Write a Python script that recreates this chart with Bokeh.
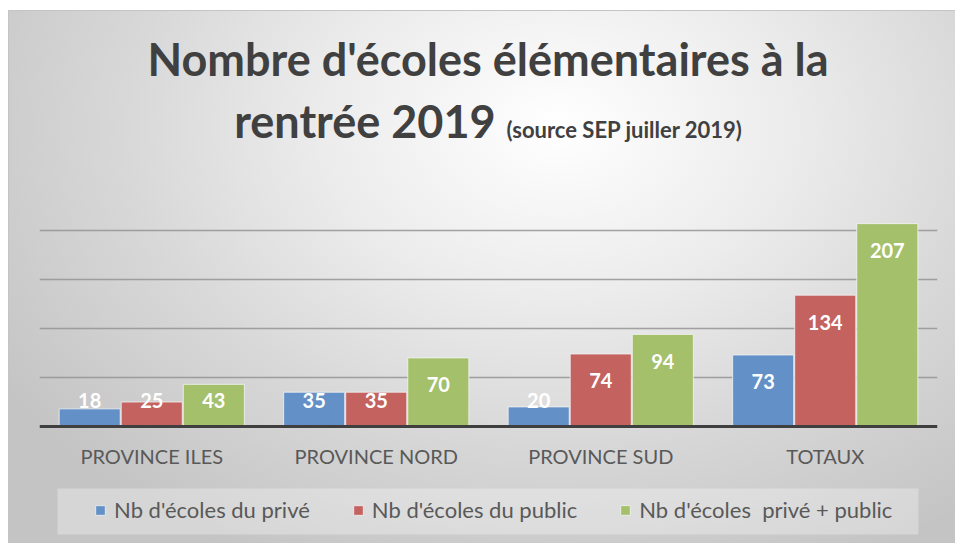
import numpy as np
from bokeh.plotting import figure
from bokeh.layouts import column
from bokeh.models import (FactorRange, Range1d, ColumnDataSource, Legend,
                          LegendItem, FixedTicker, Div, BoxAnnotation)
from bokeh.transform import dodge
from bokeh.core.properties import value
from bokeh.embed import file_html
from bokeh.resources import INLINE

# ---- data ----
categories = ["PROVINCE ILES", "PROVINCE NORD", "PROVINCE SUD", "TOTAUX"]
prive = [18, 35, 20, 73]
public = [25, 35, 74, 134]
total = [43, 70, 94, 207]
series_keys = ["prive", "public", "total"]
series_names = ["Nb d'écoles du privé", "Nb d'écoles du public", "Nb d'écoles  privé + public"]
colors = ["#6390C6", "#C46260", "#A4C06A"]
grid_values = [50, 100, 150, 200, 250]
title_line1 = "Nombre d'écoles élémentaires à la"
title_line2 = "rentrée 2019"
title_source = "(source SEP juiller 2019)"

FONT = "Lato"

data = dict(cat=categories, prive=prive, public=public, total=total)
for k in series_keys:
    vals = np.array(data[k])
    data[k + "_lab"] = [str(v) for v in vals]
    data[k + "_y"] = np.maximum(vals, 54)
src = ColumnDataSource(data)

# ---- title (HTML text, mixed sizes) ----
title_html = (
    f'<div style="box-sizing:border-box; width:955px; padding:28px 0 0 21px; text-align:center; '
    f'font-family:Lato; font-weight:bold; font-size:45px; line-height:62px; color:#404040; '
    f'white-space:nowrap;">'
    f'{title_line1}<br>{title_line2} '
    f'<span style="font-size:22px;">{title_source}</span></div>'
)
title_div = Div(text=title_html, width=955, height=160, margin=0)

# ---- figure ----
# y scale: 0.98 px per unit; frame extends below zero to hold axis labels and legend
p = figure(x_range=FactorRange(factors=categories, range_padding=0),
           y_range=Range1d(-116.33, 250),
           frame_width=898, frame_height=359,
           min_border_left=39, min_border_right=18,
           min_border_top=21, min_border_bottom=3,
           output_backend="svg", toolbar_location=None, tools="", margin=0)
p.background_fill_color = None
p.border_fill_color = None
p.outline_line_color = None

# gridlines
p.xgrid.grid_line_color = None
p.ygrid.ticker = FixedTicker(ticks=grid_values)
p.ygrid.grid_line_color = "#949494"
p.ygrid.grid_line_width = 1.5
p.ygrid.grid_line_alpha = 0.85
p.yaxis.visible = False

# x axis at value 0
ax = p.xaxis[0]
ax.fixed_location = 0
ax.axis_line_color = "#3f3f3f"
ax.axis_line_width = 3
ax.major_tick_line_color = None
ax.minor_tick_line_color = None
ax.major_tick_out = 0
ax.major_tick_in = 0
ax.major_label_standoff = 18
ax.major_label_text_font = FONT
ax.major_label_text_font_size = "20px"
ax.major_label_text_color = "#595959"

offsets = [-0.2765, 0.0, 0.2765]
renderers = []
for k, off, col in zip(series_keys, offsets, colors):
    r = p.vbar(x=dodge("cat", off, range=p.x_range), top=k, width=0.272, source=src,
               fill_color=col, line_color="#f4f4f4", line_alpha=0.8, line_width=1)
    renderers.append(r)
    p.text(x=dodge("cat", off, range=p.x_range), y=k + "_y", text=k + "_lab", source=src,
           text_color="white", text_font=value(FONT), text_font_style="bold",
           text_font_size="20px", text_align="center", text_baseline="middle", y_offset=27)

# legend background panel
box = BoxAnnotation(left=0.08, right=3.915, bottom=-110.2, top=-63.3,
                    fill_color="white", fill_alpha=0.3, line_color=None, level="underlay")
p.add_layout(box)

legend = Legend(items=[LegendItem(label=n, renderers=[r]) for n, r in zip(series_names, renderers)],
                orientation="horizontal", location=(55, 17),
                padding=12, margin=0, spacing=42, label_standoff=8,
                glyph_width=12, glyph_height=12, label_height=22,
                label_text_font=FONT, label_text_font_size="22px", label_text_color="#595959",
                background_fill_alpha=0, border_line_color=None)
p.add_layout(legend, "center")

bg = ("linear-gradient(#c4c4c4,#c4c4c4) 8px 10px / 947px 1px no-repeat, "
      "linear-gradient(#c4c4c4,#c4c4c4) 8px 10px / 1px 535px no-repeat, "
      "radial-gradient(ellipse 70% 90% at 58% 22%, #ffffff 0%, #ececec 35%, #d8d8d8 65%, #c4c4c4 100%) "
      "8px 10px / 947px 535px no-repeat, #ffffff")
layout = column(title_div, p, spacing=0, margin=0, styles={"background": bg})

open("out.html", "w").write(file_html(layout, INLINE))
